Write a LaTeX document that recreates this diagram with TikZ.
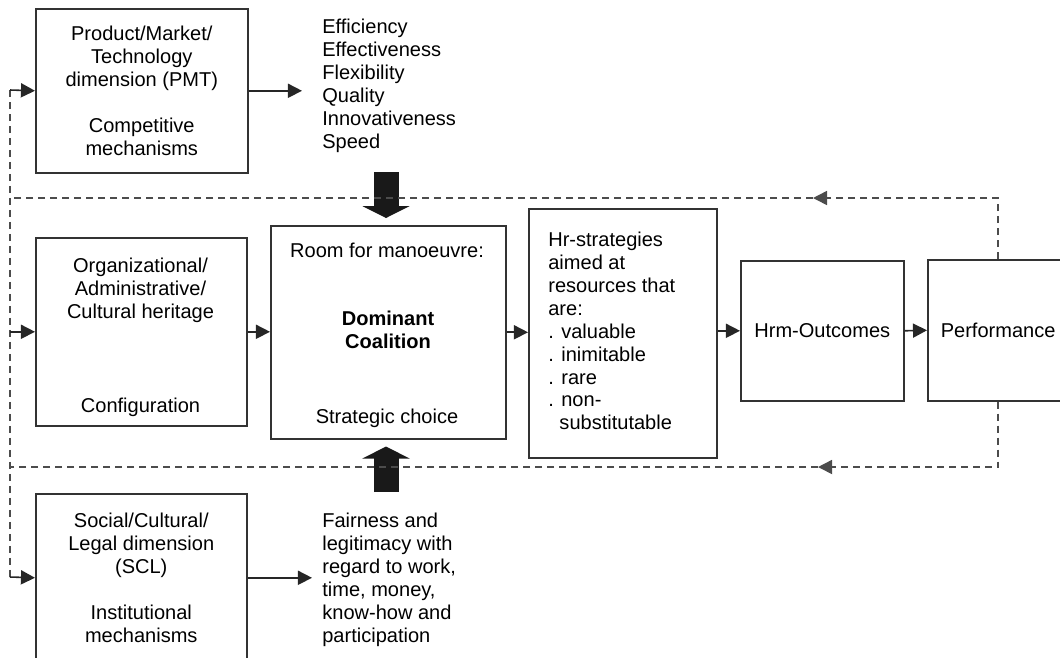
\documentclass[tikz,border=0pt]{standalone}
\usepackage{fontspec}
\setmainfont{Liberation Sans}
\usetikzlibrary{arrows.meta,calc}

\begin{document}
\begin{tikzpicture}[
    x=0.02cm, y=-0.02cm,
    >={Triangle[length=8pt,width=8pt]},
    font=\fontsize{11.4}{13.05}\selectfont,
    box/.style={draw=black!80, line width=0.9pt, inner sep=0pt, anchor=north west, align=center},
    txt/.style={align=left, inner sep=0pt, anchor=north west},
    lbl/.style={align=center, inner sep=0pt},
    flow/.style={line width=0.9pt, black!85, ->},
    feedback/.style={line width=0.9pt, black!70, dash pattern=on 0.14cm off 0.1cm},
    fat/.style={line width=0.5cm, black!90, -{Triangle[length=0.24cm,width=0.94cm]}}
  ]

  \useasboundingbox (0,0) rectangle (1060,657);

  % Three dimensions on the left
  \node[box, minimum width=4.24cm, minimum height=3.28cm] (pmt) at (35,8)
  {Product/Market/\\Technology\\dimension (PMT)\\[13pt]Competitive\\mechanisms};

  \node[box, minimum width=4.22cm, minimum height=3.76cm] (org) at (35,237) {};
  \node[lbl] (orgtxt) at (140.5,290) {Organizational/\\Administrative/\\Cultural heritage};
  \node[lbl] (config) at (140.5,407) {Configuration};

  \node[box, minimum width=4.22cm, minimum height=3.36cm] (scl) at (35,493)
  {Social/Cultural/\\Legal dimension\\(SCL)\\[13pt]Institutional\\mechanisms};

  % Criteria lists
  \node[txt] (eff) at (322,19)
  {Efficiency\\Effectiveness\\Flexibility\\Quality\\Innovativeness\\Speed};
  \node[txt] (fair) at (322,513)
  {Fairness and\\legitimacy with\\regard to work,\\time, money,\\know-how and\\participation};

  % Centre and chain to the right
  \node[box, minimum width=4.7cm, minimum height=4.26cm] (room) at (270,225) {};
  \node[lbl] (roomtxt) at (387,250) {Room for manoeuvre:};
  \node[lbl, font=\fontsize{11.4}{13.05}\selectfont\bfseries] (dc) at (388,330) {Dominant\\Coalition};
  \node[lbl] (choice) at (387,418) {Strategic choice};

  \node[box, minimum width=3.76cm, minimum height=4.98cm] (hr) at (528,208) {};
  \node[txt, anchor=west] (hrtxt) at (548,331)
  {Hr-strategies\\aimed at\\resources that\\are:\\. valuable\\. inimitable\\. rare\\. non-\\\hspace*{0.556em}substitutable};

  \node[box, minimum width=3.26cm, minimum height=2.8cm] (hrm) at (740,260) {Hrm-Outcomes};
  \node[box, inner xsep=0.26cm, minimum height=2.82cm] (perf) at (927,259) {Performance};

  % Solid arrows
  \draw[flow, shorten >=0.4cm] (pmt.east) -- (pmt.east -| eff.west);
  \draw[flow, shorten >=0.2cm] (scl.east) -- (scl.east -| fair.west);
  \draw[flow] (org.east) -- (org.east -| room.west);
  \draw[flow] (room.east) -- (room.east -| hr.west);
  \draw[flow] (hr.east |- hrm.west) -- (hrm.west);
  \draw[flow] (hrm.east) -- (perf.west);

  % Fat arrows into the dominant coalition
  \coordinate (effbase) at (386,172);
  \coordinate (fairbase) at (386,492);
  \draw[fat, shorten >=0.14cm] (effbase) -- (effbase |- room.north);
  \draw[fat, shorten >=0.14cm] (fairbase) -- (fairbase |- room.south);

  % Feedback loops
  \coordinate (fbtop) at (10,198);
  \coordinate (fbbot) at (10,467);
  \coordinate (fbup) at (10,90);
  \coordinate (fbdown) at (10,577);
  \coordinate (tiptop) at (813,198);
  \coordinate (tipbot) at (818,467);

  \draw[feedback, ->] (perf.north) |- (tiptop);
  \draw[feedback] (tiptop) -- (fbtop);
  \draw[feedback, ->] (perf.south) |- (tipbot);
  \draw[feedback] (tipbot) -- (fbbot);
  \draw[feedback] (fbup) -- (fbdown);
  \draw[flow] (fbup) -- (pmt.west);
  \draw[flow] (fbup |- org.west) -- (org.west);
  \draw[flow] (fbdown) -- (scl.west);
\end{tikzpicture}
\end{document}
